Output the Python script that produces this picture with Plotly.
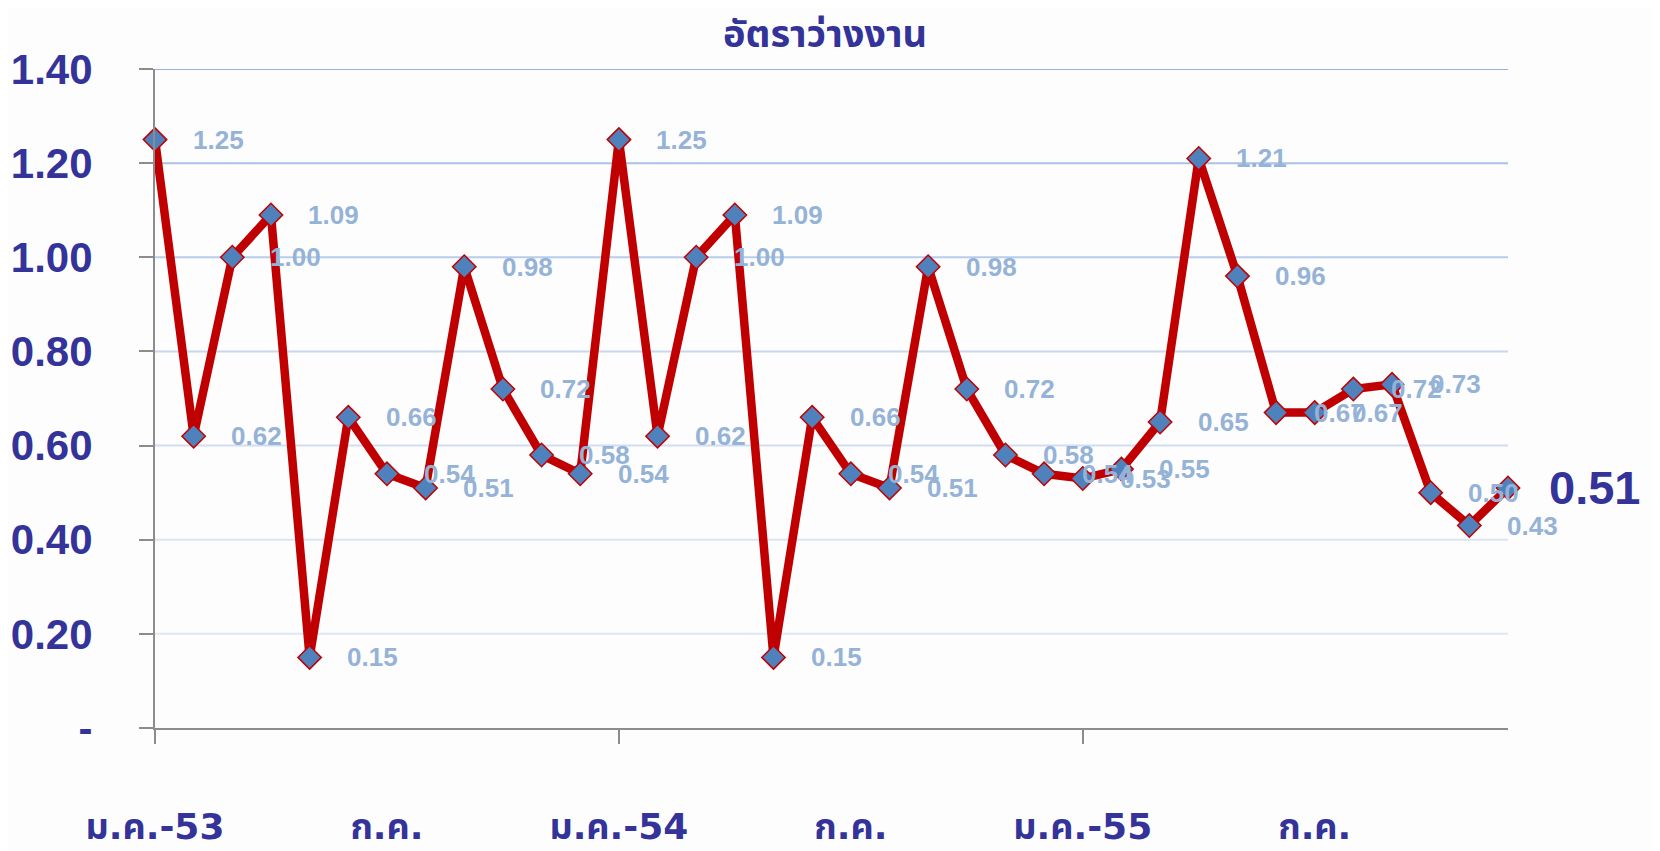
import plotly.graph_objects as go

# ---- data ----
months = list(range(36))  # ม.ค.-53 ... ธ.ค.-55
rate = [1.25, 0.62, 1.00, 1.09, 0.15, 0.66, 0.54, 0.51, 0.98, 0.72, 0.58, 0.54,
        1.25, 0.62, 1.00, 1.09, 0.15, 0.66, 0.54, 0.51, 0.98, 0.72, 0.58, 0.54,
        0.53, 0.55, 0.65, 1.21, 0.96, 0.67, 0.67, 0.72, 0.73, 0.50, 0.43, 0.51]
x_tickvals = [0, 6, 12, 18, 24, 30]
x_ticktext = ["ม.ค.-53", "ก.ค.", "ม.ค.-54", "ก.ค.", "ม.ค.-55", "ก.ค."]
y_tickvals = [0, 0.2, 0.4, 0.6, 0.8, 1.0, 1.2, 1.4]
y_ticktext = ["-", "0.20", "0.40", "0.60", "0.80", "1.00", "1.20", "1.40"]
title_text = "อัตราว่างงาน"

# ---- style ----
DARK = "#333399"
LABEL = "#95B3D7"
RED = "#C00000"
FILL = "#4F81BD"
AXIS = "#8C8C8C"
grid_colors = ["#DDE7F5", "#DAE5F4", "#D0DEF1", "#C8D8EF", "#B8CDEA", "#A9C2E5", "#95B3DE"]
THAI = "Tahoma, 'Noto Sans Thai', 'Noto Sans', 'Liberation Sans', sans-serif"
THAI_X = "'DejaVu Sans', Tahoma, 'Noto Sans Thai', sans-serif"
NUM = "'Liberation Sans', Arial, sans-serif"

fig = go.Figure()

# gridlines (graded colours)
for gv, gc in zip(y_tickvals[1:], grid_colors):
    fig.add_shape(type="line", xref="paper", x0=0, x1=1, yref="y", y0=gv, y1=gv,
                  line=dict(color=gc, width=2), layer="below")

fig.add_trace(go.Scatter(
    x=months, y=rate, mode="lines+markers",
    line=dict(color=RED, width=8.5),
    marker=dict(symbol="diamond", size=18, color=FILL, line=dict(color=RED, width=1.5)),
    cliponaxis=False, showlegend=False, hoverinfo="skip",
))

# data labels
for i, (m, v) in enumerate(zip(months, rate)):
    last = i == len(rate) - 1
    fig.add_annotation(
        x=m, y=v, text=f"{v:.2f}", showarrow=False,
        xshift=86 if last else 63, yshift=0,
        font=dict(family=NUM, size=47 if last else 26, color=DARK if last else LABEL,
                  weight="bold"),
        xanchor="center", yanchor="middle",
    )

fig.add_annotation(
    xref="paper", yref="paper", x=0.495, y=1, yshift=34, text=title_text,
    showarrow=False, font=dict(family=THAI, size=38, color=DARK, weight="bold"),
    xanchor="center", yanchor="middle",
)

fig.update_layout(
    width=1644, height=843,
    margin=dict(l=146.6, r=143.6, t=60.8, b=122.6, autoexpand=False),
    paper_bgcolor="#FDFDFD", plot_bgcolor="rgba(0,0,0,0)",
    font=dict(family=NUM, color=DARK),
    xaxis=dict(
        range=[0, 35], tickmode="array", tickvals=x_tickvals, ticktext=x_ticktext,
        ticks="", showgrid=False, zeroline=False, automargin=False,
        showline=True, linecolor=AXIS, linewidth=2,
        tickfont=dict(family=THAI_X, size=36, color=DARK, weight="bold"),
        ticklabelstandoff=66,
        minor=dict(ticks="outside", tickmode="array", tickvals=[0, 12, 24],
                   ticklen=14, tickcolor=AXIS, tickwidth=2, showgrid=False),
    ),
    yaxis=dict(
        range=[0, 1.4], tickmode="array", tickvals=y_tickvals, ticktext=y_ticktext,
        ticks="outside", ticklen=14, tickcolor=AXIS, tickwidth=2,
        showgrid=False, zeroline=False, automargin=False,
        showline=True, linecolor=AXIS, linewidth=2,
        tickfont=dict(family=NUM, size=42, color=DARK, weight="bold"),
        ticklabelstandoff=38,
    ),
)

fig.write_html("out.html")
